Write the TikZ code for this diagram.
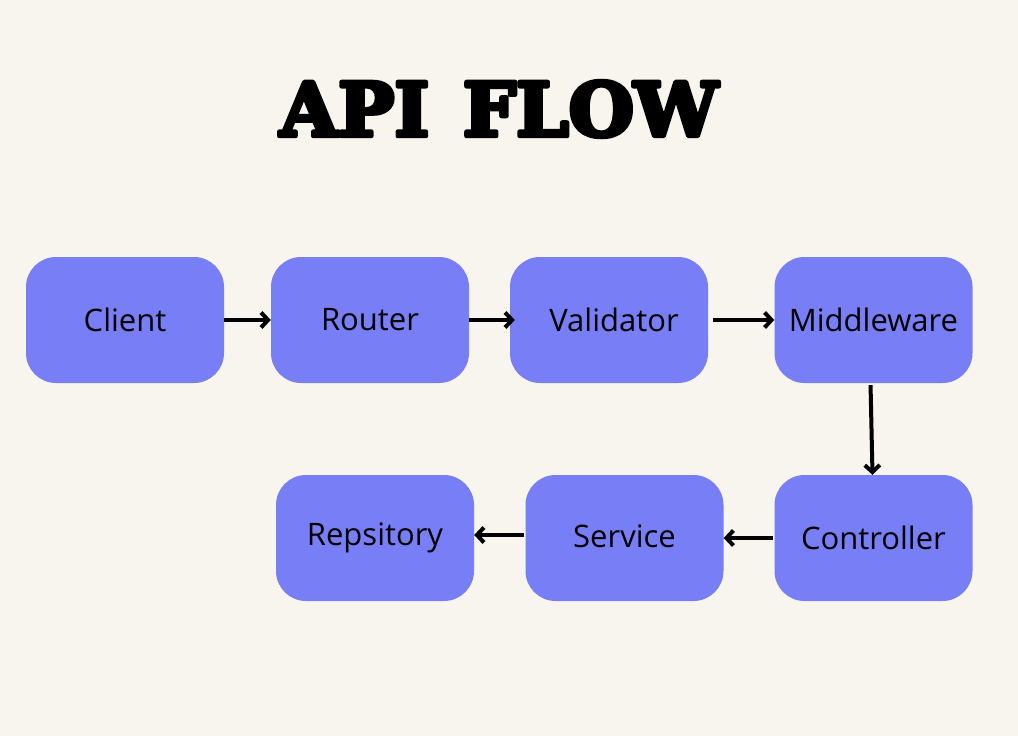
\documentclass[tikz,border=0pt]{standalone}
\usepackage{fontspec}
\usetikzlibrary{arrows.meta}
\setmainfont{Open Sans}
\newfontfamily\titlefont{DejaVu Serif}
\definecolor{bg}{HTML}{F8F4EE}
\definecolor{boxfill}{HTML}{787EF6}
\begin{document}
\begin{tikzpicture}[x=1pt,y=-1pt,
  stepbox/.style={fill=boxfill, rounded corners=30pt, minimum width=198pt, minimum height=126pt, inner sep=0pt, font=\fontsize{31}{33}\selectfont},
  conn/.style={line width=4pt, -{Straight Barb[length=7pt,width=15pt,line width=4pt]}}]
\fill[bg] (0,0) rectangle (1018,736);
\useasboundingbox (0,0) rectangle (1018,736);
\node[inner sep=0pt] (title) at (499,109) {\resizebox{438pt}{55pt}{\special{pdf:literal 2 Tr 0.6 w 1 j}\titlefont\bfseries API\hspace{0.45em}FLOW\special{pdf:literal 0 Tr 0 j}}};
\node[stepbox] (client) at (125,320) {Client};
\node[stepbox] (router) at (370,320) {Router};
\node[stepbox] (validator) at (609,320) {\hspace{10pt}Validator};
\node[stepbox] (middleware) at (873.5,320) {Middleware};
\node[stepbox] (controller) at (873.5,538) {Controller};
\node[stepbox] (service) at (624.5,538) {\raisebox{3pt}{Service}};
\node[stepbox] (repository) at (375,538) {\raisebox{3pt}{Repsitory}};
\draw[conn] (client.east) -- (router.west);
\draw[conn] (router.east) -- ([xshift=5pt]validator.west);
\draw[conn,shorten <=5pt] (validator.east) -- (middleware.west);
\draw[conn,shorten <=2pt] ([xshift=-3pt]middleware.south) -- ([xshift=-1pt]controller.north);
\draw[conn,shorten <=1pt] (controller.west) -- (service.east);
\draw[conn,shorten <=1pt] ([yshift=3pt]service.west) -- ([yshift=3pt]repository.east);
\end{tikzpicture}
\end{document}
